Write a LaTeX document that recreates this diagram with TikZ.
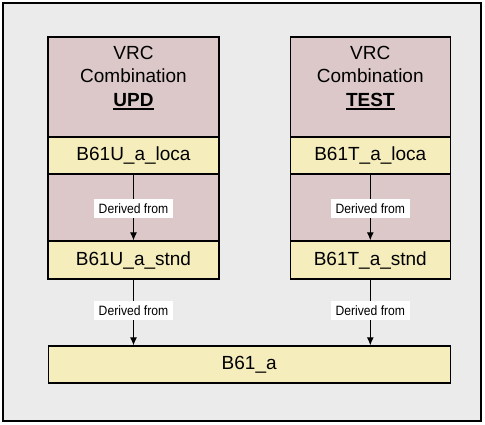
\documentclass[tikz,border=0pt]{standalone}
\usepackage{fontspec}
\setmainfont{Liberation Sans}
\newfontfamily\lblfont[FakeStretch=0.9]{Liberation Sans}
\usetikzlibrary{arrows.meta}
\definecolor{bggray}{RGB}{235,235,235}
\definecolor{pinkbox}{RGB}{220,200,200}
\definecolor{yelbox}{RGB}{245,237,187}
\newcommand\thickul[1]{\leavevmode\vtop{\hbox{#1}\kern1.6pt\hrule height 1.8pt}}
\tikzset{
  panel/.style={draw=black, line width=1.4pt, fill=pinkbox, inner sep=0pt},
  itembox/.style={draw=black, line width=1.4pt, fill=yelbox, inner sep=0pt, font=\fontsize{19}{22}\selectfont},
  headtext/.style={align=center, inner sep=0pt, font=\fontsize{19}{23.5}\selectfont},
  derivlbl/.style={fill=white, inner sep=0pt, minimum width=79pt, minimum height=19pt, font=\lblfont\fontsize{13.5}{15}\selectfont},
  conn/.style={line width=1pt, -{Latex[length=8pt,width=7pt]}}
}
\begin{document}
\begin{tikzpicture}[x=1pt,y=-1pt]
\useasboundingbox (0,0) rectangle (485,424);
\fill[white] (0,0) rectangle (485,424);
\draw[line width=1.4pt, fill=bggray] (3,3) rectangle (481,421);
% left column
\node[panel, minimum width=171pt, minimum height=100pt] (hdrU) at (133.5,87) {};
\node[headtext] (hdrUtext) at (133.5,78) {VRC\\Combination\\\thickul{\bfseries UPD}};
\node[itembox, minimum width=171pt, minimum height=37pt] (locaU) at (133.5,155.5) {B61U\_a\_loca};
\node[panel, minimum width=171pt, minimum height=67pt] (midU) at (133.5,207.5) {};
\node[itembox, minimum width=171pt, minimum height=38pt] (stndU) at (133.5,260) {B61U\_a\_stnd};
% right column
\node[panel, minimum width=160pt, minimum height=100pt] (hdrT) at (370.3,87) {};
\node[headtext] (hdrTtext) at (370.3,78) {VRC\\Combination\\\thickul{\bfseries TEST}};
\node[itembox, minimum width=160pt, minimum height=37pt] (locaT) at (370.3,155.5) {B61T\_a\_loca};
\node[panel, minimum width=160pt, minimum height=67pt] (midT) at (370.3,207.5) {};
\node[itembox, minimum width=160pt, minimum height=38pt] (stndT) at (370.3,260) {B61T\_a\_stnd};
% bottom
\node[itembox, minimum width=402pt, minimum height=37pt] (b61) at (249.2,364.5) {B61\_a};
% connectors
\draw[conn] (locaU.south) -- node[derivlbl, pos=0.52] {Derived from} (stndU.north);
\draw[conn] (locaT.south) -- node[derivlbl, pos=0.52] {Derived from} (stndT.north);
\draw[conn] (stndU.south) -- node[derivlbl, pos=0.47] {Derived from} (stndU.south |- b61.north);
\draw[conn] (stndT.south) -- node[derivlbl, pos=0.47] {Derived from} (stndT.south |- b61.north);
\end{tikzpicture}
\end{document}
